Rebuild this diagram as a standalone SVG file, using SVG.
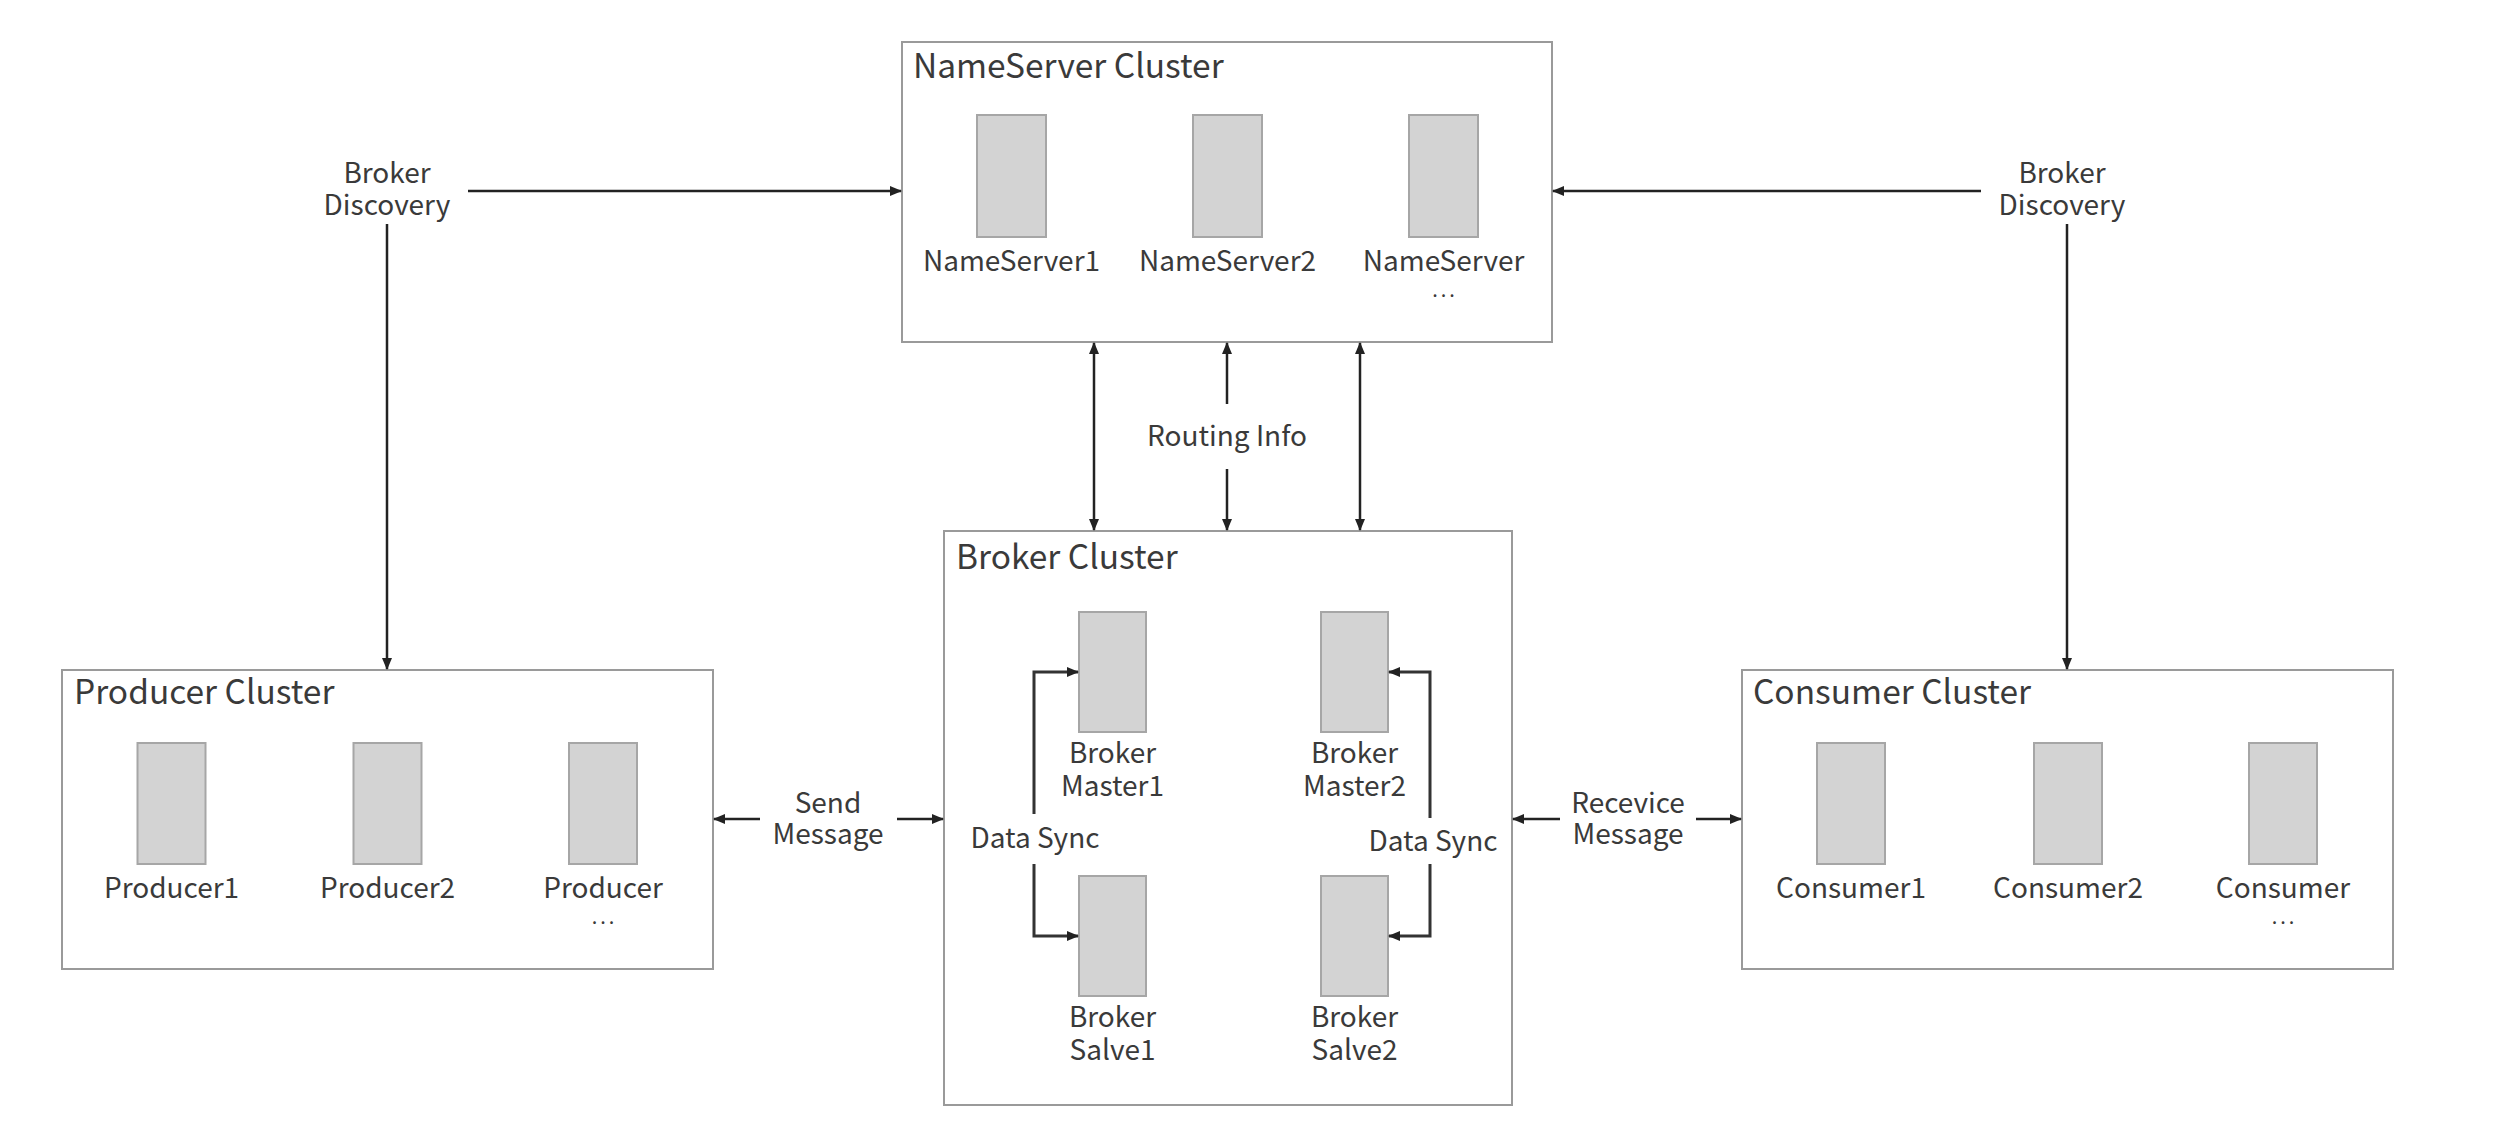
<svg xmlns="http://www.w3.org/2000/svg" width="2500" height="1148" viewBox="0 0 2500 1148">
<style>
.cluster{fill:#ffffff;stroke:#9a9a9a;stroke-width:2}
.srv{fill:#d3d3d3;stroke:#a6a6a6;stroke-width:2}
text{font-family:"Noto Sans CJK SC","Noto Sans",sans-serif;fill:#3a3a3a}
.title{font-size:33.5px}
.lbl{font-size:28px;text-anchor:middle}
.dots{font-size:20px;letter-spacing:3px}
.con{fill:none;stroke:#222;stroke-width:2.5}
.sync{fill:none;stroke:#333;stroke-width:3}
</style>
<defs>
<marker id="arr" viewBox="0 0 12 10" refX="11" refY="5" markerWidth="12" markerHeight="10" markerUnits="userSpaceOnUse" orient="auto-start-reverse">
<path d="M0,0 L12,5 L0,10 z" fill="#222"/>
</marker>
</defs>
<rect width="2500" height="1148" fill="#ffffff"/>

<g id="nameserver-cluster">
<rect class="cluster" x="902" y="42" width="650" height="300"/>
<text class="title" x="913" y="78">NameServer Cluster</text>
<g id="nameserver1"><rect class="srv" x="977" y="115" width="69" height="122"/><text class="lbl" x="1011.5" y="271">NameServer1</text></g>
<g id="nameserver2"><rect class="srv" x="1193" y="115" width="69" height="122"/><text class="lbl" x="1227.5" y="271">NameServer2</text></g>
<g id="nameserver3"><rect class="srv" x="1409" y="115" width="69" height="122"/><text class="lbl"><tspan x="1443.5" y="271">NameServer</tspan><tspan class="dots" x="1445" y="297">...</tspan></text></g>
</g>

<g id="broker-cluster">
<rect class="cluster" x="944" y="531" width="568" height="574"/>
<text class="title" x="956" y="569">Broker Cluster</text>
<g id="broker-master1"><rect class="srv" x="1079" y="612" width="67" height="120"/><text class="lbl"><tspan x="1112.5" y="763">Broker</tspan><tspan x="1112.5" y="796">Master1</tspan></text></g>
<g id="broker-master2"><rect class="srv" x="1321" y="612" width="67" height="120"/><text class="lbl"><tspan x="1354.5" y="763">Broker</tspan><tspan x="1354.5" y="796">Master2</tspan></text></g>
<g id="broker-slave1"><rect class="srv" x="1079" y="876" width="67" height="120"/><text class="lbl"><tspan x="1112.5" y="1027">Broker</tspan><tspan x="1112.5" y="1060">Salve1</tspan></text></g>
<g id="broker-slave2"><rect class="srv" x="1321" y="876" width="67" height="120"/><text class="lbl"><tspan x="1354.5" y="1027">Broker</tspan><tspan x="1354.5" y="1060">Salve2</tspan></text></g>
</g>

<g id="producer-cluster">
<rect class="cluster" x="62" y="670" width="651" height="299"/>
<text class="title" x="74" y="704">Producer Cluster</text>
<g id="producer1"><rect class="srv" x="137.5" y="743" width="68" height="121"/><text class="lbl" x="171.5" y="898">Producer1</text></g>
<g id="producer2"><rect class="srv" x="353.5" y="743" width="68" height="121"/><text class="lbl" x="387.5" y="898">Producer2</text></g>
<g id="producer3"><rect class="srv" x="569" y="743" width="68" height="121"/><text class="lbl"><tspan x="603" y="898">Producer</tspan><tspan class="dots" x="604.5" y="924">...</tspan></text></g>
</g>

<g id="consumer-cluster">
<rect class="cluster" x="1742" y="670" width="651" height="299"/>
<text class="title" x="1753" y="704">Consumer Cluster</text>
<g id="consumer1"><rect class="srv" x="1817" y="743" width="68" height="121"/><text class="lbl" x="1851" y="898">Consumer1</text></g>
<g id="consumer2"><rect class="srv" x="2034" y="743" width="68" height="121"/><text class="lbl" x="2068" y="898">Consumer2</text></g>
<g id="consumer3"><rect class="srv" x="2249" y="743" width="68" height="121"/><text class="lbl"><tspan x="2283" y="898">Consumer</tspan><tspan class="dots" x="2284.5" y="924">...</tspan></text></g>
</g>

<g id="connectors">
<line class="con" x1="468" y1="191" x2="901" y2="191" marker-end="url(#arr)"/>
<line class="con" x1="387" y1="224" x2="387" y2="669" marker-end="url(#arr)"/>
<line class="con" x1="1981" y1="191" x2="1553" y2="191" marker-end="url(#arr)"/>
<line class="con" x1="2067" y1="224" x2="2067" y2="669" marker-end="url(#arr)"/>
<line class="con" x1="1094" y1="343" x2="1094" y2="530" marker-start="url(#arr)" marker-end="url(#arr)"/>
<line class="con" x1="1360" y1="343" x2="1360" y2="530" marker-start="url(#arr)" marker-end="url(#arr)"/>
<line class="con" x1="1227" y1="404" x2="1227" y2="343" marker-end="url(#arr)"/>
<line class="con" x1="1227" y1="469" x2="1227" y2="530" marker-end="url(#arr)"/>
<line class="con" x1="760" y1="819" x2="714" y2="819" marker-end="url(#arr)"/>
<line class="con" x1="897" y1="819" x2="943" y2="819" marker-end="url(#arr)"/>
<line class="con" x1="1560" y1="819" x2="1513" y2="819" marker-end="url(#arr)"/>
<line class="con" x1="1696" y1="819" x2="1741" y2="819" marker-end="url(#arr)"/>
<path class="sync" d="M1034,814 V672 H1078" marker-end="url(#arr)"/>
<path class="sync" d="M1034,864 V936 H1078" marker-end="url(#arr)"/>
<path class="sync" d="M1430,818 V672 H1389" marker-end="url(#arr)"/>
<path class="sync" d="M1430,864 V936 H1389" marker-end="url(#arr)"/>
</g>

<g id="labels">
<text class="lbl"><tspan x="387" y="183">Broker</tspan><tspan x="387" y="215">Discovery</tspan></text>
<text class="lbl"><tspan x="2062" y="183">Broker</tspan><tspan x="2062" y="215">Discovery</tspan></text>
<text class="lbl" x="1227" y="446">Routing Info</text>
<text class="lbl"><tspan x="828" y="813">Send</tspan><tspan x="828" y="844">Message</tspan></text>
<text class="lbl"><tspan x="1628" y="813">Recevice</tspan><tspan x="1628" y="844">Message</tspan></text>
<text class="lbl" x="1035" y="848">Data Sync</text>
<text class="lbl" x="1433" y="851">Data Sync</text>
</g>
</svg>
